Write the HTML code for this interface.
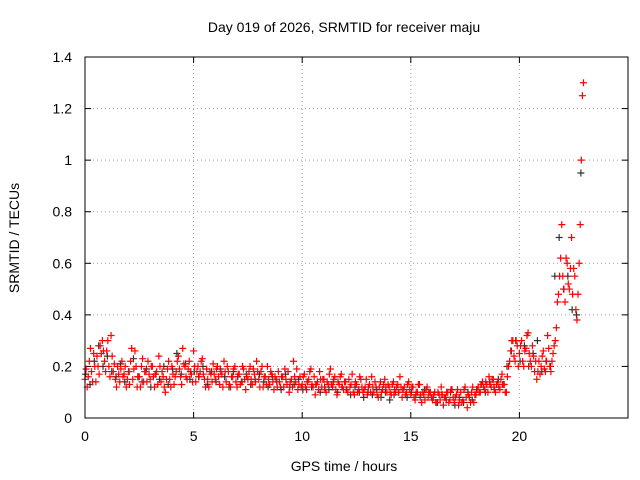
<!DOCTYPE html>
<html><head><meta charset="utf-8"><style>
body{margin:0;background:#fff;}
svg{display:block;font-family:"Liberation Sans",sans-serif;}
</style></head><body>
<svg id="chart" width="640" height="480">
<rect width="640" height="480" fill="#fff"/>
<text x="344" y="32" font-size="14" text-anchor="middle">Day 019 of 2026, SRMTID for receiver maju</text>
<text x="344" y="471" font-size="14" text-anchor="middle">GPS time / hours</text>
<text x="19" y="238" font-size="14" text-anchor="middle" transform="rotate(-90 19 238)">SRMTID / TECUs</text>
<g id="grid"></g><g id="ticks"></g><g id="marks"></g>
<rect x="85" y="57" width="543" height="361" fill="none" stroke="#000" stroke-width="1"/>
</svg>
<script>
const xTicks=[0,5,10,15,20];
const yTicks=[0,0.2,0.4,0.6,0.8,1,1.2,1.4];
const yTickLabels=["0","0.2","0.4","0.6","0.8","1","1.2","1.4"];
const redValues=[.15,.12,.22,.18,.25,.14,.2,.28,.3,.22,
.26,.2,.32,.18,.15,.2,.14,.22,.17,.12,
.18,.22,.15,.26,.12,.16,.2,.14,.18,.22,
.15,.2,.12,.18,.24,.14,.16,.1,.19,.15,
.2,.13,.18,.24,.16,.27,.2,.15,.22,.17,
.26,.14,.2,.18,.23,.15,.19,.12,.17,.21,
.15,.2,.13,.17,.22,.14,.18,.12,.16,.2,
.12,.17,.14,.19,.11,.15,.2,.13,.17,.22,
.15,.18,.12,.16,.2,.13,.17,.11,.15,.18,
.12,.16,.19,.13,.1,.15,.22,.14,.11,.16,
.13,.17,.11,.15,.19,.12,.09,.14,.18,.12,
.15,.1,.13,.19,.12,.16,.09,.13,.17,.11,
.14,.1,.12,.17,.09,.13,.11,.15,.1,.12,
.09,.13,.16,.1,.12,.08,.14,.11,.15,.1,
.12,.09,.14,.1,.13,.16,.08,.12,.1,.14,
.09,.12,.07,.1,.13,.06,.09,.11,.08,.1,
.07,.1,.06,.09,.12,.05,.08,.1,.07,.11,
.06,.09,.05,.1,.07,.12,.04,.08,.1,.06,
.09,.12,.1,.14,.11,.13,.16,.12,.15,.1,
.14,.11,.17,.13,.1,.2,.26,.3,.22,.28,
.25,.3,.2,.27,.33,.22,.28,.18,.15,.22,
.2,.26,.18,.32,.2,.22,.28,.35,.48,.62,
.55,.45,.6,.5,.7,.58,.42,.48,.75,1.25];
const redValues2=[.19,.16,.27,.14,.2,.24,.17,.25,.26,.18,
.3,.16,.24,.21,.12,.17,.19,.16,.2,.15,
.13,.27,.19,.2,.16,.12,.23,.18,.14,.17,
.2,.16,.17,.13,.2,.18,.12,.15,.22,.12,
.17,.16,.22,.19,.13,.21,.16,.19,.18,.14,
.2,.18,.16,.22,.17,.12,.15,.18,.14,.17,
.19,.16,.18,.12,.18,.2,.13,.16,.19,.14,
.17,.13,.2,.15,.16,.18,.15,.19,.14,.18,
.12,.2,.16,.13,.15,.18,.14,.16,.12,.14,
.16,.12,.15,.18,.14,.12,.16,.19,.13,.12,
.16,.12,.14,.18,.13,.16,.13,.11,.15,.15,
.11,.14,.17,.13,.15,.11,.14,.16,.12,.14,
.11,.15,.13,.1,.14,.1,.16,.12,.11,.15,
.12,.1,.12,.14,.09,.12,.1,.13,.12,.13,
.1,.13,.11,.12,.1,.12,.11,.09,.13,.11,
.12,.08,.1,.13,.09,.1,.07,.12,.1,.08,
.09,.06,.1,.07,.09,.08,.1,.06,.11,.08,
.08,.11,.07,.06,.11,.08,.09,.06,.12,.09,
.11,.1,.13,.12,.14,.1,.13,.15,.11,.13,
.12,.15,.13,.1,.16,.22,.3,.24,.3,.2,
.28,.22,.26,.32,.25,.2,.24,.22,.18,.17,
.24,.19,.22,.27,.18,.25,.3,.45,.55,.75,
.5,.62,.52,.58,.48,.55,.38,.6,1.0,1.3];
const blackValues=[.17,.13,.22,.28,.2,.24,.18,.16,.21,.14,.18,.23,.16,.14,.19,.12,.17,.15,.2,.13,
.19,.25,.17,.21,.15,.18,.16,.2,.13,.18,.14,.19,.16,.12,.18,.16,.14,.17,.13,.15,
.17,.14,.12,.16,.14,.11,.17,.12,.13,.15,.11,.14,.12,.13,.1,.12,.11,.14,.1,.12,
.11,.09,.12,.1,.08,.1,.09,.11,.08,.1,.07,.09,.1,.11,.08,.1,.09,.08,.11,.1,
.08,.06,.09,.07,.1,.05,.08,.06,.1,.07,.11,.13,.1,.14,.12,.15,.13,.2,.26,.3,
.22,.28,.2,.25,.3,.18,.22,.2,.55,.7,.5,.55,.42,.4,.95];
const X0=85,X1=628,Y0=418,Y1=57,XMAX=25,YMAX=1.4;
function sx(v){return X0+(X1-X0)*v/XMAX;}
function sy(v){return Y0-(Y0-Y1)*v/YMAX;}
const NS="http://www.w3.org/2000/svg";
const grid=document.getElementById('grid'),ticks=document.getElementById('ticks'),marks=document.getElementById('marks');
function mk(tag,attrs,parent){const e=document.createElementNS(NS,tag);for(const k in attrs)e.setAttribute(k,attrs[k]);parent.appendChild(e);return e;}
xTicks.forEach(t=>{
  const x=sx(t);
  if(t>0){const g=mk('line',{x1:x,x2:x,y1:Y0,y2:Y1,stroke:'#a0a0a0','stroke-dasharray':'1,3'},grid);
  
  }
  const l=mk('line',{x1:x,x2:x,y1:Y0,y2:Y0-6,stroke:'#000'},ticks);
  
  
  const l2=mk('line',{x1:x,x2:x,y1:Y1,y2:Y1+6,stroke:'#000'},ticks);
  
  
  const tx=mk('text',{x:x,y:Y0+23,'font-size':14,'text-anchor':'middle'},ticks);tx.textContent=String(t);
  
  
});
yTicks.forEach((t,i)=>{
  const y=sy(t);
  if(t>0&&t<YMAX){const g=mk('line',{x1:X0,x2:X1,y1:y,y2:y,stroke:'#a0a0a0','stroke-dasharray':'1,3'},grid);
  
  }
  const l=mk('line',{x1:X0,x2:X0+6,y1:y,y2:y,stroke:'#000'},ticks);
  
  
  const l2=mk('line',{x1:X1,x2:X1-6,y1:y,y2:y,stroke:'#000'},ticks);
  
  
  const tx=mk('text',{x:X0-13,y:y+5,'font-size':14,'text-anchor':'end'},ticks);tx.textContent=yTickLabels[i];
  
  
});
function plus(h,v,color,name){
  const x=sx(h),y=sy(v);
  const p=mk('path',{d:`M${x-3.5},${y}H${x+3.5}M${x},${y-3.5}V${y+3.5}`,stroke:color,'stroke-width':1.2,fill:'none'},marks);
  
  
}
blackValues.forEach((v,i)=>plus(i*0.2+0.03,v,'#333','black-point'));
redValues.forEach((v,i)=>plus(i*0.1,v,'#ff0000','red-point'));
redValues2.forEach((v,i)=>plus(i*0.1+0.05,v,'#ff0000','red-point'));
</script>
</body></html>
